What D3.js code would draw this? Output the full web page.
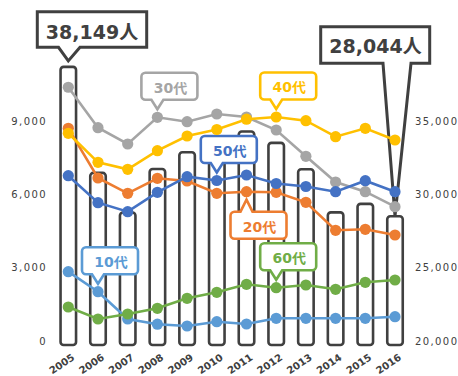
<!DOCTYPE html>
<html>
<head>
<meta charset="utf-8">
<script src="https://cdn.jsdelivr.net/npm/d3@7"></script>
<style>
  body { margin: 0; background: #fff; }
  svg { display: block; }
</style>
</head>
<body>
<div id="chart"></div>
<script>
// Years and values per age group (people)
const years = ["2005", "2006", "2007", "2008", "2009", "2010", "2011", "2012", "2013", "2014", "2015", "2016"];
const teens = [2835, 2017, 900, 687, 614, 790, 695, 929, 929, 929, 929, 994];
const twenties = [8700, 6668, 6042, 6656, 6545, 6042, 6108, 6083, 5674, 4529, 4570, 4336];
const thirties = [10380, 8726, 8059, 9151, 8971, 9286, 9164, 8632, 7556, 6505, 6108, 5494];
const forties = [8497, 7310, 7024, 7785, 8386, 8652, 9074, 9164, 9012, 8358, 8701, 8223];
const fifties = [6762, 5658, 5290, 6083, 6721, 6566, 6791, 6443, 6320, 6108, 6558, 6108];
const sixties = [1391, 900, 1105, 1338, 1747, 1992, 2320, 2180, 2291, 2115, 2401, 2495];
// Totals (bars, right axis)
const totals = [38690, 31460, 28760, 31730, 32870, 33400, 34280, 33510, 31710, 28770, 29350, 28510];

const leftTicks = [0, 3000, 6000, 9000];
const rightTicks = [20000, 25000, 30000, 35000];
const firstTotalLabel = "38,149人";
const lastTotalLabel = "28,044人";

const series = [
    { name: "10代", values: teens, color: "#5b9bd5" },
    { name: "20代", values: twenties, color: "#ed7d31" },
    { name: "30代", values: thirties, color: "#a5a5a5" },
    { name: "40代", values: forties, color: "#ffc000" },
    { name: "50代", values: fifties, color: "#4472c4" },
    { name: "60代", values: sixties, color: "#70ad47" }
];

// Where each series label sits: anchored to one year, above or below the dot
const labelPlacement = {
    "10代": { year: "2006", side: "above" },
    "20代": { year: "2011", side: "below" },
    "30代": { year: "2008", side: "above" },
    "40代": { year: "2012", side: "above" },
    "50代": { year: "2010", side: "above" },
    "60代": { year: "2012", side: "above" }
};

const width = 458, height = 376;
const dark = "#404040";
const font = "'DejaVu Sans', 'Noto Sans CJK JP', sans-serif";

const svg = d3.select("#chart")
    .append("svg")
    .attr("width", width)
    .attr("height", height);

// Scales
const x = d3.scalePoint().domain(years).range([68.3, 395]);
const yL = d3.scaleLinear().domain([0, 9000]).range([341, 121]);
const yR = d3.scaleLinear().domain([20000, 35000]).range([341, 121]);

// Left axis
const leftAxis = svg.append("g")
    .attr("transform", "translate(51,0)")
    .call(d3.axisLeft(yL).tickValues(leftTicks).tickSize(0).tickPadding(4).tickFormat(d3.format(",")));
leftAxis.select(".domain").remove();
leftAxis.selectAll("text")
    .attr("font-family", font)
    .attr("font-size", 10)
    .attr("letter-spacing", 1.4)
    .attr("fill", dark);

// Right axis
const rightAxis = svg.append("g")
    .attr("transform", "translate(411,0)")
    .call(d3.axisRight(yR).tickValues(rightTicks).tickSize(0).tickPadding(4).tickFormat(d3.format(",")));
rightAxis.select(".domain").remove();
rightAxis.selectAll("text")
    .attr("font-family", font)
    .attr("font-size", 10)
    .attr("letter-spacing", 1.4)
    .attr("fill", dark);

// X axis, rotated labels
const xAxis = svg.append("g")
    .attr("transform", "translate(0,359)")
    .call(d3.axisBottom(x).tickSize(0));
xAxis.select(".domain").remove();
xAxis.selectAll("text")
    .attr("x", 0).attr("y", 0).attr("dy", 0)
    .attr("text-anchor", "end")
    .attr("transform", "translate(6.5,0) rotate(-34)")
    .attr("font-family", font)
    .attr("font-size", 10)
    .attr("font-weight", "bold")
    .attr("fill", dark);

// Bars (totals)
const barW = 15.5;
svg.append("g")
    .selectAll("rect")
    .data(years)
    .enter()
    .append("rect")
    .attr("x", d => x(d) - barW / 2)
    .attr("y", (d, i) => yR(totals[i]))
    .attr("width", barW)
    .attr("height", (d, i) => yR(20000) + 4 - yR(totals[i]))
    .attr("rx", 3)
    .attr("fill", "#fff")
    .attr("stroke", dark)
    .attr("stroke-width", 2.6);

// Outline of a box with a pointer on its top or bottom edge
function calloutPath(x0, y0, x1, y1, r, pl, pr, tx, ty, down) {
    const p = d3.path();
    p.moveTo(x0 + r, y0);
    if (!down) { p.lineTo(pl, y0); p.lineTo(tx, ty); p.lineTo(pr, y0); }
    p.lineTo(x1 - r, y0);
    if (r) p.arcTo(x1, y0, x1, y0 + r, r);
    p.lineTo(x1, y1 - r);
    if (r) p.arcTo(x1, y1, x1 - r, y1, r);
    if (down) { p.lineTo(pr, y1); p.lineTo(tx, ty); p.lineTo(pl, y1); }
    p.lineTo(x0 + r, y1);
    if (r) p.arcTo(x0, y1, x0, y1 - r, r);
    p.lineTo(x0, y0 + r);
    if (r) p.arcTo(x0, y0, x0 + r, y0, r);
    p.closePath();
    return p.toString();
}

// Total callouts
const firstX = x(years[0]), firstTop = yR(totals[0]);
svg.append("path")
    .attr("d", calloutPath(37.3, 11.7, 146.7, 47.3, 0, 58.5, 80, firstX, firstTop - 6, true))
    .attr("fill", "#fff").attr("stroke", dark).attr("stroke-width", 3);
svg.append("text")
    .attr("x", 92).attr("y", 39)
    .attr("text-anchor", "middle")
    .attr("font-family", font).attr("font-size", 19).attr("font-weight", "bold")
    .attr("fill", dark)
    .text(firstTotalLabel);

const lastX = x(years[years.length - 1]), lastTop = yR(totals[totals.length - 1]);
svg.append("path")
    .attr("d", calloutPath(320.7, 26.7, 429.7, 63.3, 0, 383, 411, lastX, lastTop, true))
    .attr("fill", "#fff").attr("stroke", dark).attr("stroke-width", 3);
svg.append("text")
    .attr("x", 375.5).attr("y", 53.3)
    .attr("text-anchor", "middle")
    .attr("font-family", font).attr("font-size", 19).attr("font-weight", "bold")
    .attr("fill", dark)
    .text(lastTotalLabel);

// Series labels
const boxW = 56, boxH = 27;
series.forEach(s => {
    const place = labelPlacement[s.name];
    const i = years.indexOf(place.year);
    const px = x(place.year), py = yL(s.values[i]);
    const x0 = px - 16, x1 = x0 + boxW;
    let y0, y1, ty;
    if (place.side === "above") {
        y1 = py - 17.5; y0 = y1 - boxH; ty = py - 8;
    } else {
        y0 = py + 20; y1 = y0 + boxH; ty = py + 8;
    }
    svg.append("path")
        .attr("d", calloutPath(x0, y0, x1, y1, 4, px - 6, px + 6, px, ty, place.side === "above"))
        .attr("fill", "#fff")
        .attr("stroke", s.color)
        .attr("stroke-width", 2.6);
    svg.append("text")
        .attr("x", (x0 + x1) / 2 + 1)
        .attr("y", (y0 + y1) / 2 + 6.5)
        .attr("text-anchor", "middle")
        .attr("font-family", font).attr("font-size", 14).attr("font-weight", "bold")
        .attr("fill", s.color)
        .text(s.name);
});

// Lines and dots
const line = d3.line()
    .x(d => x(d.year))
    .y(d => yL(d.value));

series.forEach(s => {
    const pts = years.map((year, i) => ({ year: year, value: s.values[i] }));
    svg.append("path")
        .datum(pts)
        .attr("d", line)
        .attr("fill", "none")
        .attr("stroke", s.color)
        .attr("stroke-width", 2.6);
    svg.append("g")
        .selectAll("circle")
        .data(pts)
        .enter()
        .append("circle")
        .attr("cx", d => x(d.year))
        .attr("cy", d => yL(d.value))
        .attr("r", 5.6)
        .attr("fill", s.color);
});
</script>
</body>
</html>
